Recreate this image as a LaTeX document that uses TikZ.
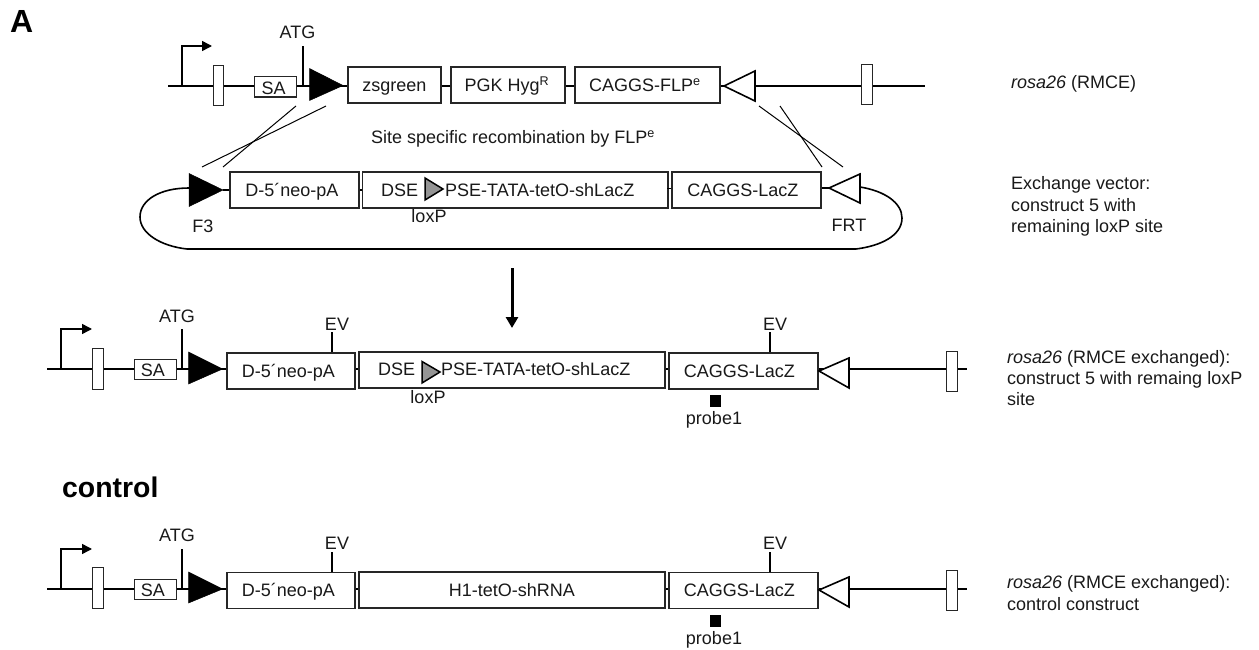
\documentclass[tikz,border=0pt]{standalone}
\usepackage{fontspec}
\setmainfont{Liberation Sans}
\usetikzlibrary{arrows.meta}
\tikzset{
  x=1pt,y=-1pt,
  lbl/.style={inner sep=0pt,text height=13pt,text depth=0pt,font=\fontsize{18}{21}\selectfont,text=black!90},
  sidelbl/.style={inner sep=0pt,anchor=west,font=\fontsize{18}{21.3}\selectfont,align=left,text=black!90},
  gbox/.style={draw=black!85,line width=1.8pt,fill=white,inner sep=0pt,text height=13pt,text depth=0pt,font=\fontsize{18}{21}\selectfont,text=black!90},
  thinbox/.style={draw=black!85,line width=1.2pt,fill=white,inner sep=0pt,text height=13pt,text depth=0pt,font=\fontsize{18}{21}\selectfont,text=black!90},
  wire/.style={line width=1.6pt,black},
  xline/.style={line width=1pt,black},
  tss/.style={line width=1.5pt,-{Triangle[length=10pt,width=10pt]}},
  solidtri/.style={fill=black,draw=black,line width=.5pt,line join=miter},
  opentri/.style={fill=white,draw=black,line width=1.6pt,line join=miter},
  graytri/.style={fill=black!42,draw=black,line width=1.5pt,line join=miter},
}
\newcommand{\boxat}[7][gbox]{% style,name,x1,y1,x2,y2,text
  \node[#1,minimum width=#5pt-#3pt,minimum height=#6pt-#4pt,anchor=north west] (#2) at (#3,#4) {#7};}
\begin{document}
\begin{tikzpicture}
\useasboundingbox (0,0) rectangle (1259,650);
\node[inner sep=0pt,anchor=base west,font=\fontsize{32}{34}\selectfont\bfseries] (lblA) at (10,33) {A};
\node[inner sep=0pt,anchor=base west,font=\fontsize{28.4}{30}\selectfont\bfseries] (lblC) at (62,497) {control};

%%%% Row 1
\coordinate (r1a) at (168,86); \coordinate (r1b) at (925,86);
\draw[wire] (r1a) -- (r1b);
\coordinate (p1a) at (182,86); \coordinate (p1b) at (182,46); \coordinate (p1c) at (212,46);
\draw[tss] (p1a) -- (p1b) -- (p1c);
\draw[line width=2pt] (303,86) coordinate (atg1a) -- (303,46) coordinate (atg1b);
\node[lbl] (atg1) at (297.5,32) {ATG};
\boxat[thinbox]{e1a}{213}{65}{223}{105}{}
\boxat[thinbox]{sa1}{254}{76}{296}{96.5}{\kern-4pt\raisebox{-1pt}{SA}}
\draw[solidtri] (309.5,68.5) -- (343,85.5) -- (309.5,100.5) -- cycle;
\boxat{z1}{347}{66}{440}{102}{zsgreen}
\boxat{h1}{450}{66}{564}{102}{\kern-2pt PGK Hyg\textsuperscript{R}}
\boxat{c1}{574}{66}{719}{102}{\kern-5pt CAGGS-FLP\textsuperscript{e}}
\draw[opentri] (724,86) -- (755,71) -- (755,101) -- cycle;
\boxat[thinbox]{e1b}{861}{64}{872}{104}{}
\node[sidelbl] (s1) at (1011,84) {\textit{rosa26} (RMCE)};

%% crossing lines
\coordinate (xa) at (296,106); \coordinate (xb) at (223,167);
\coordinate (xc) at (326,106); \coordinate (xd) at (202,167);
\coordinate (xe) at (759,106); \coordinate (xf) at (843,167);
\coordinate (xg) at (780,106); \coordinate (xh) at (822,167);
\draw[xline] (xa) -- (xb);
\draw[xline] (xc) -- (xd);
\draw[xline] (xe) -- (xf);
\draw[xline] (xg) -- (xh);
\node[lbl,anchor=west] (ssr) at (371,137) {Site specific recombination by FLP\textsuperscript{e}};

%%%% Row 2
\coordinate (l1) at (189,188); \coordinate (l2) at (860,187);
\draw[wire] (l1) .. controls (160,188) and (140,200) .. (140,217)
  .. controls (140,233) and (160,246) .. (187,249) -- (856,249)
  .. controls (880,246) and (902,236) .. (902,218)
  .. controls (902,203) and (885,191) .. (l2);
\draw[wire] (223,190) -- (362,190);
\draw[wire] (820,188) -- (830,188);
\draw[solidtri] (189,173.5) -- (223,190) -- (189,206.5) -- cycle;
\boxat{d2}{229}{171}{358}{207}{\kern-5pt D-5´neo-pA}
\boxat{m2}{361.5}{171}{667}{207}{}
\draw[wire] (667,188.5) -- (671,188.5);
\boxat{c2}{671}{171}{820}{207}{\kern-7pt CAGGS-LacZ}
\draw[opentri] (829,188) -- (860,174) -- (860,203) -- cycle;
\node[lbl,anchor=west] (dse2) at (381,190) {DSE};
\draw[graytri] (425,178) -- (443,189) -- (425,200) -- cycle;
\node[lbl,anchor=west] (pse2) at (445,190) {PSE-TATA-tetO-shLacZ};
\node[lbl] (lox2) at (429,216) {loxP};
\node[lbl] (f3) at (203,226) {F3};
\node[lbl] (frt) at (849,225) {FRT};
\node[sidelbl] (s2) at (1011,206.5) {Exchange vector:\\construct 5 with\\remaining loxP site};

%%%% Big arrow
\coordinate (ba) at (512,268); \coordinate (bb) at (512,328);
\draw[line width=3pt,-{Triangle[length=11pt,width=12pt]}] (ba) -- (bb);

%%%% Row 3
\draw[wire] (47,369) coordinate (r3a) -- (967,369) coordinate (r3b);
\draw[tss] (61,369) coordinate (p3a) -- (61,329) coordinate (p3b) -- (92,329) coordinate (p3c);
\draw[line width=2pt] (182,369) coordinate (atg3a) -- (182,329) coordinate (atg3b);
\node[lbl] (atg3) at (177,316) {ATG};
\boxat[thinbox]{e3a}{92}{348}{103}{389}{}
\boxat[thinbox]{sa3}{134}{359}{175.5}{379}{\kern-5pt SA}
\draw[solidtri] (188.5,352) -- (222.5,369) -- (188.5,384) -- cycle;
\boxat{d3}{226}{352}{354}{388}{\kern-5pt D-5´neo-pA}
\boxat{m3}{358}{351}{664}{387}{}
\boxat{c3}{668}{352}{817}{388}{\kern-8pt CAGGS-LacZ}
\draw[opentri] (819,371) -- (849,358) -- (849,388) -- cycle;
\boxat[thinbox]{e3b}{946}{351}{957}{391}{}
\draw[xline,line width=1.2pt] (332,352) coordinate (ev3a) -- (332,332) coordinate (ev3b);
\node[lbl] (ev3) at (337,324) {EV};
\draw[xline,line width=1.2pt] (770,352) coordinate (ev3c) -- (770,332) coordinate (ev3d);
\node[lbl] (ev3r) at (775,324) {EV};
\node[lbl,anchor=west] (dse3) at (378,369) {DSE};
\draw[graytri] (422,361.5) -- (440,372) -- (422,383) -- cycle;
\node[lbl,anchor=west] (pse3) at (441,369) {PSE-TATA-tetO-shLacZ};
\node[lbl] (lox3) at (428,397) {loxP};
\fill[black] (710,395) rectangle (721,407);
\node[lbl] (pr3) at (714,418) {probe1};
\node[sidelbl] (s3) at (1007,378) {\textit{rosa26} (RMCE exchanged):\\construct 5 with remaing loxP\\site};

%%%% Row 4
\draw[wire] (47,589) coordinate (r4a) -- (967,589) coordinate (r4b);
\draw[tss] (61,589) coordinate (p4a) -- (61,549) coordinate (p4b) -- (92,549) coordinate (p4c);
\draw[line width=2pt] (182,589) coordinate (atg4a) -- (182,549) coordinate (atg4b);
\node[lbl] (atg4) at (177,535) {ATG};
\boxat[thinbox]{e4a}{92}{567}{103}{608}{}
\boxat[thinbox]{sa4}{134}{579}{175.5}{599}{\kern-5pt SA}
\draw[solidtri] (188.5,572) -- (222.5,589) -- (188.5,603) -- cycle;
\boxat{d4}{226}{571.5}{354}{607.5}{\kern-5pt D-5´neo-pA}
\boxat{m4}{358}{571}{664}{607}{H1-tetO-shRNA}
\boxat{c4}{668}{571.5}{817}{607.5}{\kern-8pt CAGGS-LacZ}
\draw[opentri] (819,590) -- (849,577) -- (849,607) -- cycle;
\boxat[thinbox]{e4b}{946}{570}{957}{610}{}
\draw[xline,line width=1.2pt] (332,571.5) coordinate (ev4a) -- (332,552) coordinate (ev4b);
\node[lbl] (ev4) at (337,543) {EV};
\draw[xline,line width=1.2pt] (770,571.5) coordinate (ev4c) -- (770,552) coordinate (ev4d);
\node[lbl] (ev4r) at (775,543) {EV};
\fill[black] (710,615) rectangle (721,627);
\node[lbl] (pr4) at (714,638) {probe1};
\node[sidelbl] (s4) at (1007,593) {\textit{rosa26} (RMCE exchanged):\\control construct};
\end{tikzpicture}
\end{document}
